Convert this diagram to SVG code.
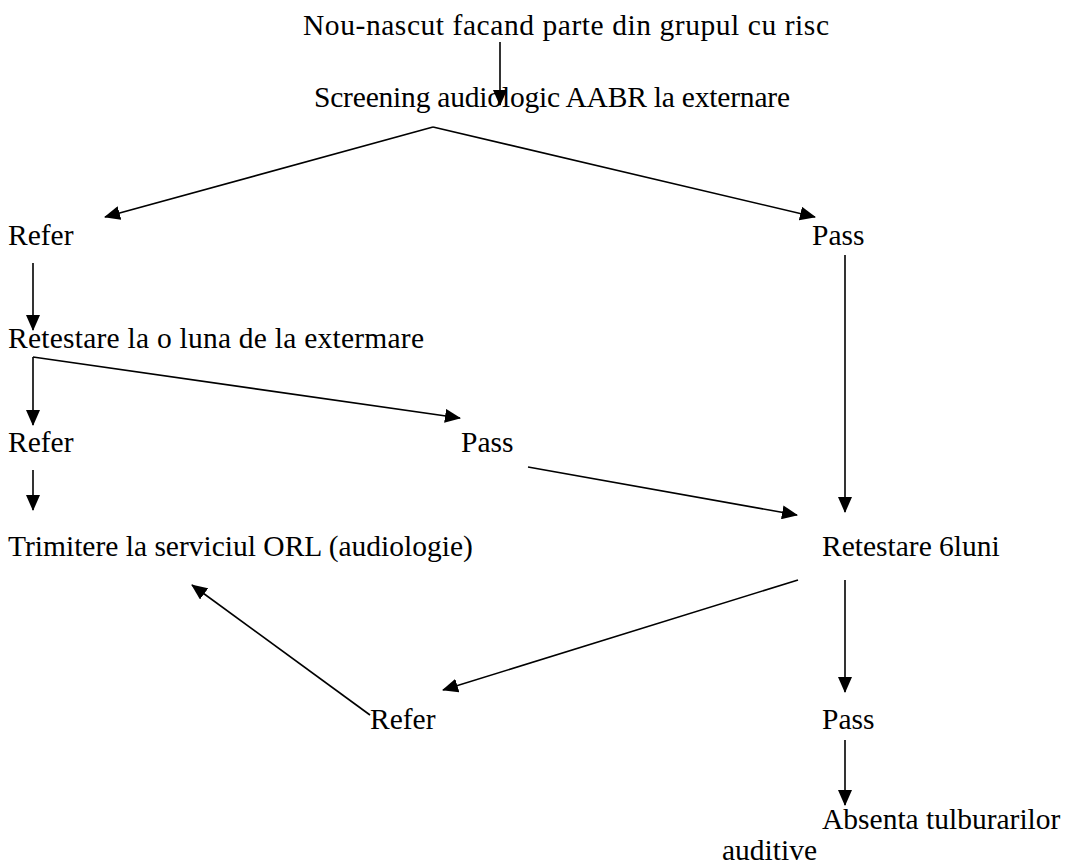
<svg xmlns="http://www.w3.org/2000/svg" width="1067" height="867" viewBox="0 0 1067 867">
<defs>
<style>
text{font-family:"Liberation Serif","Times New Roman",Times,serif;font-size:29.5px;fill:#000}
.c line{stroke:#000;stroke-width:1.6;marker-end:url(#ah)}
</style>
<marker id="ah" markerUnits="userSpaceOnUse" markerWidth="16" markerHeight="14" viewBox="0 0 16 14" refX="15" refY="7" orient="auto">
<path d="M0,0 L16,7 L0,14 z" fill="#000"/>
</marker>
</defs>
<rect width="1067" height="867" fill="#fff"/>
<g id="n1"><text x="303" y="35" textLength="526" lengthAdjust="spacing">Nou-nascut facand parte din grupul cu risc</text></g>
<g id="n2"><text x="314" y="107" textLength="476" lengthAdjust="spacing">Screening audiologic AABR la externare</text></g>
<g id="n3"><text x="8" y="245">Refer</text></g>
<g id="n4"><text x="812" y="245">Pass</text></g>
<g id="n5"><text x="8" y="348" textLength="416" lengthAdjust="spacing">Retestare la o luna de la extermare</text></g>
<g id="n6"><text x="8" y="452">Refer</text></g>
<g id="n7"><text x="461" y="452">Pass</text></g>
<g id="n8"><text x="8" y="556">Trimitere la serviciul ORL (audiologie)</text></g>
<g id="n9"><text x="822" y="556">Retestare 6luni</text></g>
<g id="n10"><text x="370" y="729">Refer</text></g>
<g id="n11"><text x="822" y="729">Pass</text></g>
<g id="n12"><text x="822" y="829">Absenta tulburarilor</text><text x="722" y="860">auditive</text></g>
<g class="c" id="connectors">
<line x1="500" y1="42" x2="500" y2="105"/>
<line x1="433" y1="127" x2="105" y2="217"/>
<line x1="433" y1="127" x2="815" y2="217"/>
<line x1="33" y1="263" x2="33" y2="330"/>
<line x1="33" y1="357" x2="33" y2="425"/>
<line x1="33" y1="357" x2="460" y2="418"/>
<line x1="33" y1="470" x2="33" y2="510"/>
<line x1="845" y1="255" x2="845" y2="512"/>
<line x1="528" y1="467" x2="797" y2="515"/>
<line x1="798" y1="580" x2="443" y2="690"/>
<line x1="845" y1="580" x2="845" y2="692"/>
<line x1="370" y1="715" x2="192" y2="585"/>
<line x1="845" y1="740" x2="845" y2="805"/>
</g>
</svg>
